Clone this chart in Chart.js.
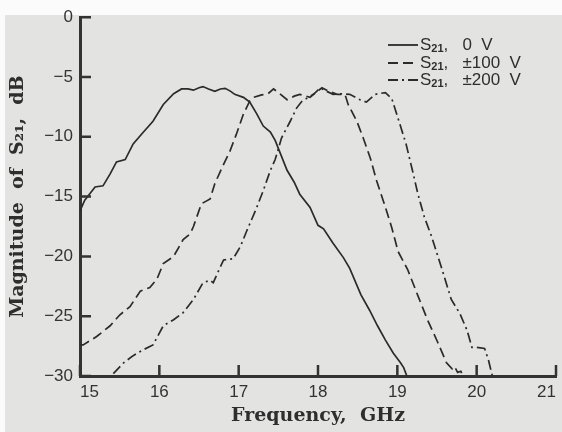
<!DOCTYPE html>
<html><head><meta charset="utf-8">
<script src="https://cdn.jsdelivr.net/npm/chart.js@4/dist/chart.umd.min.js"></script>
<style>html,body{margin:0;padding:0;background:#fff}#wrap{width:562px;height:432px}</style>
</head><body><div id="wrap"><canvas id="c" width="562" height="432"></canvas></div>
<script>
// ---- data ----
const freq0 = [15.00,15.06,15.19,15.29,15.38,15.46,15.57,15.67,15.80,15.92,16.05,16.18,16.28,16.36,16.43,16.50,16.55,16.62,16.70,16.77,16.83,16.90,16.95,17.06,17.14,17.23,17.31,17.40,17.46,17.52,17.61,17.70,17.77,17.90,18.00,18.07,18.19,18.32,18.40,18.54,18.65,18.75,18.85,18.95,19.04,19.08,19.12];
const mag0  = [-16.2,-15.3,-14.2,-14.1,-13.1,-12.1,-11.9,-10.6,-9.6,-8.7,-7.3,-6.4,-6.0,-6.0,-6.1,-5.9,-5.8,-6.0,-6.2,-6.0,-5.95,-6.2,-6.45,-6.7,-7.1,-8.1,-9.1,-9.6,-10.3,-11.3,-12.8,-13.8,-14.8,-15.9,-17.4,-17.7,-18.9,-20.1,-21.0,-23.2,-24.5,-25.8,-27.0,-28.1,-28.9,-29.3,-30];

const freq100 = [15.00,15.04,15.21,15.38,15.50,15.63,15.76,15.88,15.97,16.05,16.18,16.30,16.39,16.43,16.53,16.64,16.70,16.81,16.89,16.97,17.06,17.14,17.19,17.29,17.37,17.44,17.52,17.61,17.70,17.77,17.90,17.97,18.05,18.14,18.24,18.34,18.38,18.49,18.57,18.66,18.74,18.85,18.93,19.01,19.13,19.26,19.38,19.51,19.62,19.69,19.72,19.76,19.80,19.83];
const mag100  = [-27.4,-27.4,-26.7,-25.8,-24.9,-24.2,-22.9,-22.6,-21.9,-20.6,-20.0,-18.6,-18.1,-17.5,-15.6,-15.2,-13.9,-12.3,-11.2,-9.8,-8.1,-7.0,-6.7,-6.5,-6.4,-6.0,-6.4,-6.9,-6.6,-6.45,-6.7,-6.3,-5.9,-6.2,-6.45,-6.45,-7.3,-8.7,-10.1,-11.8,-13.7,-15.9,-17.6,-19.6,-21.1,-23.3,-25.3,-27.2,-28.9,-29.4,-29.2,-29.7,-29.6,-30];

const freq200 = [15.42,15.55,15.67,15.80,15.92,16.05,16.18,16.30,16.43,16.55,16.64,16.68,16.74,16.81,16.93,17.02,17.10,17.21,17.31,17.40,17.46,17.54,17.65,17.73,17.80,17.88,17.95,18.03,18.11,18.19,18.30,18.40,18.53,18.61,18.72,18.85,18.93,19.03,19.11,19.19,19.26,19.34,19.43,19.55,19.68,19.79,19.88,19.94,20.00,20.10,20.15,20.19,20.20];
const mag200  = [-29.8,-28.9,-28.3,-27.8,-27.4,-25.8,-25.3,-24.7,-23.6,-22.2,-22.0,-22.2,-21.3,-20.3,-20.2,-19.2,-17.9,-16.2,-14.5,-12.8,-11.9,-10.1,-8.7,-7.6,-7.0,-6.7,-6.4,-5.9,-6.2,-6.45,-6.4,-6.45,-6.9,-7.1,-6.45,-6.3,-6.8,-8.9,-10.6,-12.8,-14.8,-16.7,-18.3,-20.8,-23.6,-24.8,-26.2,-27.6,-27.6,-27.7,-28.7,-29.8,-30];

const seriesLabels = ['0 V', '\u00b1100 V', '\u00b1200 V'];
const xTicks = [15,16,17,18,19,20,21];
const yTicks = [0,-5,-10,-15,-20,-25,-30];
const xTitle = 'Frequency,  GHz';
const yTitle = 'Magnitude  of  S\u2082\u2081,  dB';

// ---- build ----
const toPts = (fs, ms) => fs.map((f, i) => ({x: f, y: ms[i]}));
const ink = '#2b2b2b';
const dashes = [[], [10, 5], [10, 4, 2, 4]];

const bgPlugin = {
  id: 'scanBg',
  beforeDraw(chart) {
    const c = chart.ctx;
    c.save();
    c.fillStyle = '#fbfbfb';
    c.fillRect(0, 0, chart.width, chart.height);
    c.fillStyle = '#e3e3e1';
    c.fillRect(5, 15, chart.width - 5, chart.height - 15);
    c.restore();
  }
};

const tickPlugin = {
  id: 'inTicks',
  afterDatasetsDraw(chart) {
    const c = chart.ctx, xs = chart.scales.x, ys = chart.scales.y, a = chart.chartArea;
    c.save();
    c.strokeStyle = '#333';
    c.lineWidth = 2.5;
    c.beginPath();
    xTicks.forEach(v => { const p = xs.getPixelForValue(v); c.moveTo(p, a.bottom); c.lineTo(p, a.bottom - 11); });
    yTicks.forEach(v => { const p = ys.getPixelForValue(v); c.moveTo(a.left, p); c.lineTo(a.left + 11, p); });
    c.stroke();
    c.restore();
  }
};

const legendPlugin = {
  id: 'legendBox',
  afterDraw(chart) {
    const c = chart.ctx;
    const x0 = 388, x1 = 418, tx = 420, rows = [45, 63, 80];
    c.save();
    chart.data.datasets.forEach((ds, i) => {
      const y = rows[i];
      c.strokeStyle = ink; c.lineWidth = 1.8; c.setLineDash(ds.borderDash || []);
      c.beginPath(); c.moveTo(x0, y); c.lineTo(x1, y); c.stroke();
      c.setLineDash([]);
      c.fillStyle = '#2e2e2e';
      c.textBaseline = 'middle';
      c.font = '17px "Liberation Sans", Arial, sans-serif';
      c.fillText('S', tx, y);
      let w = c.measureText('S').width;
      c.font = 'bold 11px "Liberation Sans", Arial, sans-serif';
      c.fillText('21', tx + w, y + 4);
      w += c.measureText('21').width;
      c.font = '17px "Liberation Sans", Arial, sans-serif';
      c.fillText(',   ' + ds.label.replace(' V', '  V'), tx + w, y);
    });
    c.restore();
  }
};

new Chart(document.getElementById('c'), {
  type: 'line',
  data: {
    datasets: [
      {label: seriesLabels[0], data: toPts(freq0, mag0), borderDash: dashes[0]},
      {label: seriesLabels[1], data: toPts(freq100, mag100), borderDash: dashes[1]},
      {label: seriesLabels[2], data: toPts(freq200, mag200), borderDash: dashes[2]}
    ].map(d => Object.assign(d, {borderColor: ink, borderWidth: 1.7, pointRadius: 0, tension: 0, fill: false}))
  },
  options: {
    responsive: false,
    animation: false,
    layout: {padding: {top: 16, right: 6, left: 0, bottom: 0}},
    plugins: {legend: {display: false}, tooltip: {enabled: false}},
    scales: {
      x: {
        type: 'linear', min: 15, max: 21,
        afterBuildTicks: s => { s.ticks = xTicks.map(v => ({value: v})); },
        afterFit: s => { s.height = 56; },
        grid: {display: false, drawTicks: false},
        border: {display: true, color: '#333', width: 3},
        ticks: {align: 'inner', padding: 6, color: '#333', font: {family: '"Liberation Sans", Arial, sans-serif', size: 17}},
        title: {display: true, text: xTitle, color: '#2e2e2e', padding: {top: 0, bottom: 5},
          font: {family: '"DejaVu Serif", "Liberation Serif", serif', size: 19, weight: 'bold'}}
      },
      y: {
        type: 'linear', min: -30, max: 0,
        afterBuildTicks: s => { s.ticks = yTicks.map(v => ({value: v})); },
        afterFit: s => { s.width = 80; },
        grid: {display: false, drawTicks: false},
        border: {display: true, color: '#333', width: 3},
        ticks: {padding: 7, color: '#333', font: {family: '"Liberation Sans", Arial, sans-serif', size: 17},
          callback: v => v < 0 ? '\u2212' + Math.abs(v) : String(v)},
        title: {display: true, text: yTitle, color: '#2e2e2e', padding: {top: 7, bottom: 0},
          font: {family: '"DejaVu Serif", "Liberation Serif", serif', size: 19, weight: 'bold'}}
      }
    }
  },
  plugins: [bgPlugin, tickPlugin, legendPlugin]
});
</script></body></html>
